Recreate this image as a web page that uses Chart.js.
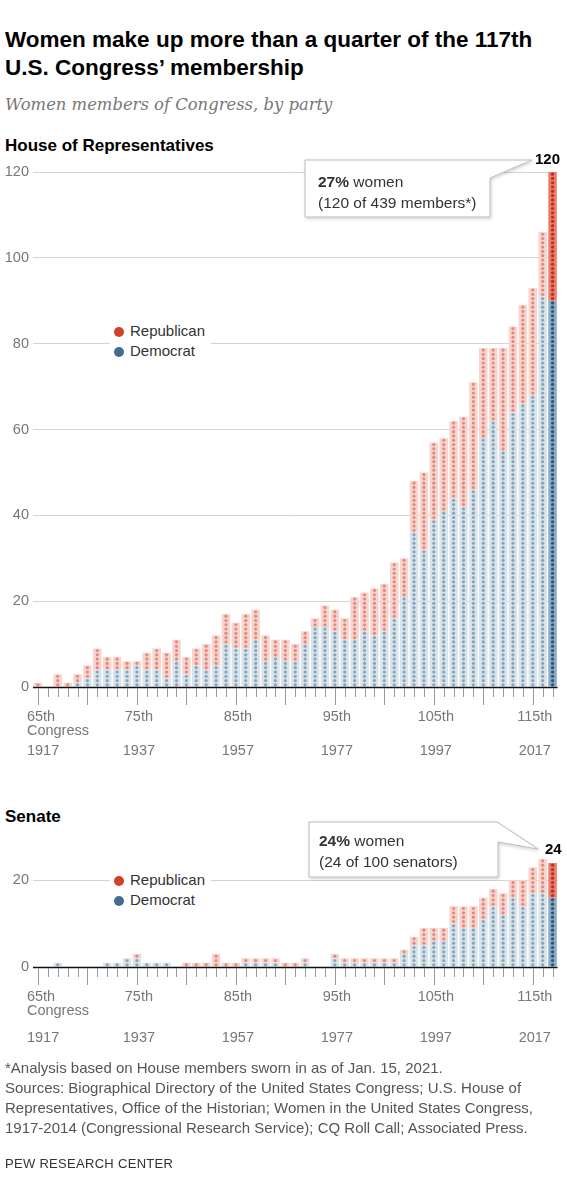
<!DOCTYPE html>
<html>
<head>
<meta charset="utf-8">
<script src="https://cdn.jsdelivr.net/npm/chart.js@4.4.1/dist/chart.umd.min.js"></script>
<style>
  body { margin: 0; width: 567px; height: 1200px; position: relative; background: #fff; overflow: hidden;
         font-family: "Liberation Sans", Arial, sans-serif; color: #222; }
  .abs { position: absolute; white-space: nowrap; }
  .title { left: 5px; top: 26px; font-size: 22.5px; line-height: 28px; font-weight: bold; color: #000; }
  .sub { left: 5px; top: 93px; font-size: 16.4px; line-height: 24px; font-style: italic; color: #777;
         font-family: "DejaVu Serif", Georgia, serif; }
  .head { left: 5px; font-size: 17px; line-height: 20px; font-weight: bold; color: #000; }
  .legend { background: #fff; padding: 0 6px 0 4px; font-size: 15px; line-height: 20px; color: #333; }
  .legend span { display: inline-block; width: 10px; height: 10px; border-radius: 50%; margin-right: 6px; vertical-align: -1px; }
  .note { font-size: 15.5px; line-height: 21px; color: #333; }
  .total { font-size: 15px; font-weight: bold; color: #000; line-height: 18px; }
  .foot { left: 5px; top: 1058px; font-size: 15px; line-height: 20px; color: #555; }
  .pew { left: 5px; top: 1156px; font-size: 13px; color: #333; letter-spacing: 0.3px; }
  canvas { position: absolute; left: 0; }
</style>
</head>
<body>
<div class="abs title">Women make up more than a quarter of the 117th<br>U.S. Congress’ membership</div>
<div class="abs sub">Women members of Congress, by party</div>
<div class="abs head" style="top:136px">House of Representatives</div>
<div class="abs head" style="top:807px">Senate</div>

<canvas id="house" width="567" height="620" style="top:150px"></canvas>
<canvas id="senate" width="567" height="230" style="top:830px"></canvas>

<svg class="abs" style="left:0;top:0" width="567" height="1200">
  <defs>
    <filter id="sh" x="-10%" y="-10%" width="130%" height="140%">
      <feDropShadow dx="1" dy="1.5" stdDeviation="1.5" flood-color="#000" flood-opacity="0.18"/>
    </filter>
  </defs>
  <polygon points="305,160 532,160 490,178 490,217 305,217" fill="#fff" stroke="#bbb" stroke-width="1" filter="url(#sh)"/>
  <polygon points="309,822 497,822 538,849 498,842 498,877 309,877" fill="#fff" stroke="#bbb" stroke-width="1" filter="url(#sh)"/>
</svg>

<div class="abs note" style="left:318px;top:171px"><b>27%</b> women<br>(120 of 439 members*)</div>
<div class="abs total" style="left:535px;top:150px">120</div>
<div class="abs note" style="left:319px;top:830px"><b>24%</b> women<br>(24 of 100 senators)</div>
<div class="abs total" style="left:545px;top:840px">24</div>

<div class="abs legend" style="left:110px;top:321px"><span style="background:#d1402b"></span>Republican<br><span style="background:#426d90"></span>Democrat</div>
<div class="abs legend" style="left:110px;top:870px"><span style="background:#d1402b"></span>Republican<br><span style="background:#426d90"></span>Democrat</div>

<div class="abs foot">*Analysis based on House members sworn in as of Jan. 15, 2021.<br>Sources: Biographical Directory of the United States Congress; U.S. House of<br>Representatives, Office of the Historian; Women in the United States Congress,<br>1917-2014 (Congressional Research Service); CQ Roll Call; Associated Press.</div>
<div class="abs pew">PEW RESEARCH CENTER</div>

<script>
// 65th to 117th Congress
const congresses = [];
for (let c = 65; c <= 117; c++) congresses.push(c);

const houseDem = [0,0,0,0,1,2,4,4,4,4,5,4,4,2,6,3,5,4,5,10,9,9,11,6,7,6,6,10,14,14,13,11,11,13,12,13,16,21,36,32,39,41,44,42,46,58,62,55,64,66,68,91,90];
const houseRep = [1,0,3,1,2,3,5,3,3,2,1,4,5,6,5,4,4,6,7,7,6,8,7,6,4,5,4,3,2,5,5,5,10,9,11,11,13,9,12,18,18,17,18,21,25,21,17,24,20,23,25,15,30];

const senateDem = [0,0,1,0,0,0,0,1,1,2,2,1,1,1,0,0,0,0,0,0,0,1,1,1,1,0,0,1,0,0,2,1,1,1,1,1,1,3,5,5,6,6,10,9,9,11,14,12,16,14,17,17,16];
const senateRep = [0,0,0,0,0,0,0,0,0,0,1,0,0,0,0,1,1,1,3,1,1,1,1,1,1,1,1,1,0,0,1,1,1,1,1,1,1,1,2,4,3,3,4,5,5,5,4,5,4,6,6,8,8];

const tickCongress = ['65th', '75th', '85th', '95th', '105th', '115th'];
const tickYears = ['1917', '1937', '1957', '1977', '1997', '2017'];
const houseTicks = [0, 20, 40, 60, 80, 100, 120];
const senateTicks = [0, 20];

const last = congresses.length - 1;

// one dot per member, stacked up each bar
const dotPlugin = {
  id: 'dots',
  afterDatasetsDraw(chart) {
    const ctx = chart.ctx, y = chart.scales.y;
    const sets = chart.data.datasets;
    ctx.save();
    sets.forEach((ds, d) => {
      chart.getDatasetMeta(d).data.forEach((bar, i) => {
        let base = 0;
        for (let p = 0; p < d; p++) base += sets[p].data[i];
        ctx.fillStyle = i === last ? ds.dotDark : ds.dotLight;
        for (let k = 0; k < ds.data[i]; k++) {
          ctx.beginPath();
          ctx.arc(bar.x, y.getPixelForValue(base + k + 0.5), 1.6, 0, Math.PI * 2);
          ctx.fill();
        }
      });
    });
    // zero line
    const a = chart.chartArea, y0 = Math.round(y.getPixelForValue(0)) + 0.5;
    ctx.strokeStyle = '#111';
    ctx.lineWidth = 1.6;
    ctx.beginPath();
    ctx.moveTo(a.left, y0);
    ctx.lineTo(a.right, y0);
    ctx.stroke();
    ctx.restore();
  }
};

const axisPlugin = {
  id: 'congressAxis',
  afterDraw(chart) {
    const ctx = chart.ctx, x = chart.scales.x, b = chart.chartArea.bottom;
    const yearGap = chart.options.yearGap;
    ctx.save();
    ctx.strokeStyle = '#999';
    ctx.lineWidth = 1;
    congresses.forEach((c, i) => {
      const px = Math.round(x.getPixelForTick(i)) + 0.5;
      const len = (c - 65) % 5 === 0 ? 18 : 10;
      ctx.beginPath();
      ctx.moveTo(px, b + 1);
      ctx.lineTo(px, b + len);
      ctx.stroke();
    });
    ctx.fillStyle = '#777';
    ctx.font = '14.5px "Liberation Sans", Arial, sans-serif';
    ctx.textBaseline = 'middle';
    tickCongress.forEach((lab, j) => {
      const px = x.getPixelForTick(parseInt(lab) - 65);
      if (j === 0) {
        ctx.textAlign = 'left';
        ctx.fillText(lab, px - 11, b + 30);
        ctx.fillText('Congress', px - 11, b + 44);
        ctx.fillText(tickYears[j], px - 11, b + yearGap);
      } else {
        ctx.textAlign = 'center';
        ctx.fillText(lab, px + 2, b + 30);
        ctx.fillText(tickYears[j], px + 2, b + yearGap);
      }
    });
    ctx.restore();
  }
};

// height below the zero line, per canvas
function xAxisHeight(id) { return id === 'house' ? 83 : 93; }

function makeChart(id, dem, rep, max, ticks, padTop, yearGap) {
  return new Chart(document.getElementById(id), {
    type: 'bar',
    data: {
      labels: congresses.map(c => c + 'th'),
      datasets: [
        {
          label: 'Democrat', data: dem,
          backgroundColor: ctx => ctx.dataIndex === last ? '#8aabc5' : '#d8e4ec',
          dotLight: '#89a4b9', dotDark: '#2c5476'
        },
        {
          label: 'Republican', data: rep,
          backgroundColor: ctx => ctx.dataIndex === last ? '#ec7b69' : '#f8d4cd',
          dotLight: '#df8b81', dotDark: '#b8301f'
        }
      ]
    },
    options: {
      responsive: false,
      animation: false,
      yearGap: yearGap,
      layout: { padding: { top: padTop, right: 9.5, left: 0, bottom: 0 } },
      datasets: { bar: { barPercentage: 0.86, categoryPercentage: 1, borderWidth: 0 } },
      plugins: { legend: { display: false }, tooltip: { enabled: false } },
      scales: {
        x: {
          stacked: true,
          grid: { display: false },
          border: { display: false },
          ticks: { display: false },
          afterFit: s => { s.height = xAxisHeight(id); }
        },
        y: {
          stacked: true,
          min: 0, max: max,
          afterBuildTicks: s => { s.ticks = ticks.map(v => ({ value: v })); },
          grid: { color: '#d4d4d4', drawTicks: false, lineWidth: 1 },
          border: { display: false },
          ticks: { padding: 4, color: '#777', font: { family: '"Liberation Sans", Arial, sans-serif', size: 14.5 } },
          afterFit: s => { s.width = 33; }
        }
      }
    },
    plugins: [dotPlugin, axisPlugin]
  });
}

makeChart('house', houseDem, houseRep, 120, houseTicks, 22, 64);
makeChart('senate', senateDem, senateRep, 25, senateTicks, 28.7, 71);
</script>
</body>
</html>
